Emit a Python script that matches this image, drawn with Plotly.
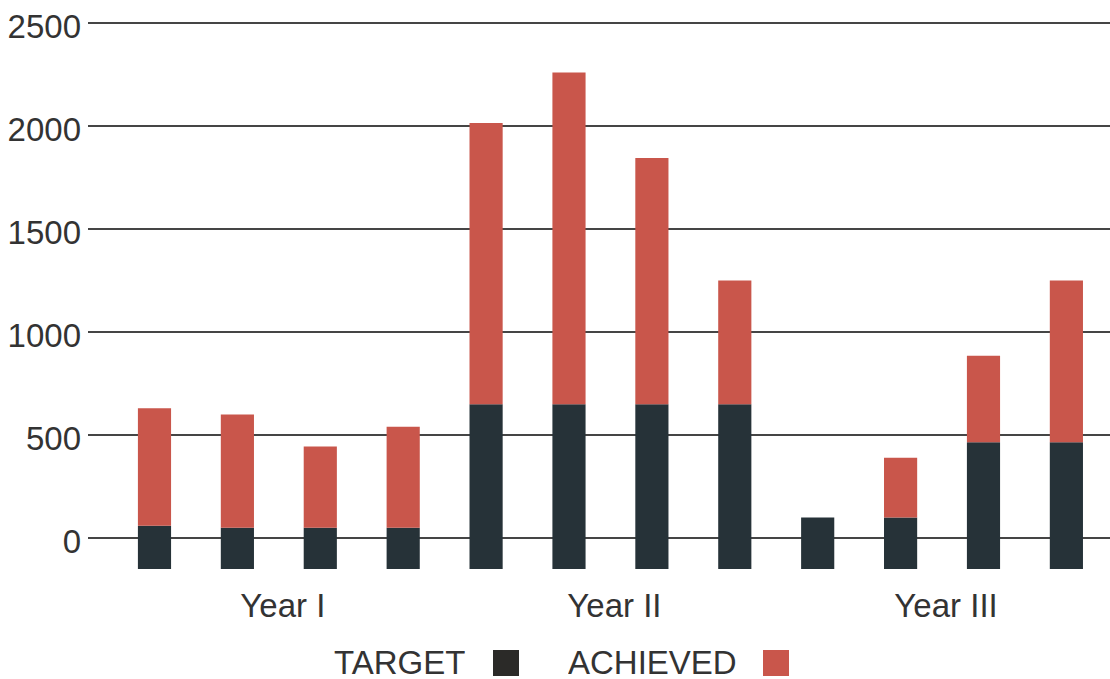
import plotly.graph_objects as go

# Target vs. achieved, four periods per year
years = ["Year I", "Year II", "Year III"]
periods_per_year = 4
target = [60, 50, 50, 50, 650, 650, 650, 650, 100, 100, 465, 465]
achieved = [570, 550, 395, 490, 1365, 1610, 1195, 600, 0, 290, 420, 785]
y_ticks = [0, 500, 1000, 1500, 2000, 2500]

AXIS_FLOOR = -150
DARK = "#263238"
RED = "#c9564b"
TEXT = "#333333"
FONT = "Liberation Sans, Arial, sans-serif"

x_idx = list(range(len(target)))
group_centers = [g * periods_per_year + (periods_per_year - 1) / 2 for g in range(len(years))]

fig = go.Figure()
# target bars rise from the bottom of the value axis
fig.add_trace(go.Bar(
    x=x_idx, y=[t - AXIS_FLOOR for t in target], base=[AXIS_FLOOR] * len(target),
    name="TARGET", marker=dict(color=DARK, line=dict(width=0)), width=0.4,
    hovertext=[str(t) for t in target], hoverinfo="text",
))
# achieved amount stacked on top of each target
fig.add_trace(go.Bar(
    x=x_idx, y=achieved, base=target,
    name="ACHIEVED", marker=dict(color=RED, line=dict(width=0)), width=0.4,
))

# plot-area geometry in pixels, used to place the legend below it
W, H = 1110, 679
M_L, M_R, M_T, M_B = 88, 0, 21, 110
PW, PH = W - M_L - M_R, H - M_T - M_B


def px_x(px):
    return (px - M_L) / PW


def px_y(py):
    return (H - M_B - py) / PH


legend_items = [("TARGET", "#2b2a28", 466, 493), ("ACHIEVED", RED, 738, 763)]
annotations, shapes = [], []
for label, color, text_right, sq_left in legend_items:
    annotations.append(dict(
        x=px_x(text_right), y=px_y(662), xref="paper", yref="paper",
        text=label, showarrow=False, xanchor="right", yanchor="middle",
        height=32, valign="middle", borderpad=0,
        font=dict(size=33, color=TEXT, family=FONT),
    ))
    shapes.append(dict(
        type="rect", xref="paper", yref="paper",
        x0=px_x(sq_left), x1=px_x(sq_left + 26), y0=px_y(676), y1=px_y(650),
        fillcolor=color, line=dict(width=0),
    ))

fig.update_layout(
    width=W, height=H,
    margin=dict(l=M_L, r=M_R, t=M_T, b=M_B, pad=0),
    barmode="overlay",
    showlegend=False,
    plot_bgcolor="white", paper_bgcolor="white",
    font=dict(family=FONT, size=33, color=TEXT),
    xaxis=dict(
        range=[-0.802, 11.526], tickvals=group_centers, ticktext=years,
        showgrid=False, zeroline=False, showline=False, ticks="",
        tickfont=dict(size=33, color=TEXT), ticklabelstandoff=14,
        ticklabelshift=4,
    ),
    yaxis=dict(
        range=[AXIS_FLOOR, 2510], tickvals=y_ticks,
        showgrid=True, gridcolor="#454545", gridwidth=1.6,
        zeroline=False, showline=False, ticks="",
        tickfont=dict(size=33, color=TEXT), ticklabelstandoff=6,
        ticklabelshift=3,
    ),
    annotations=annotations,
    shapes=shapes,
)

fig.write_html("out.html")
